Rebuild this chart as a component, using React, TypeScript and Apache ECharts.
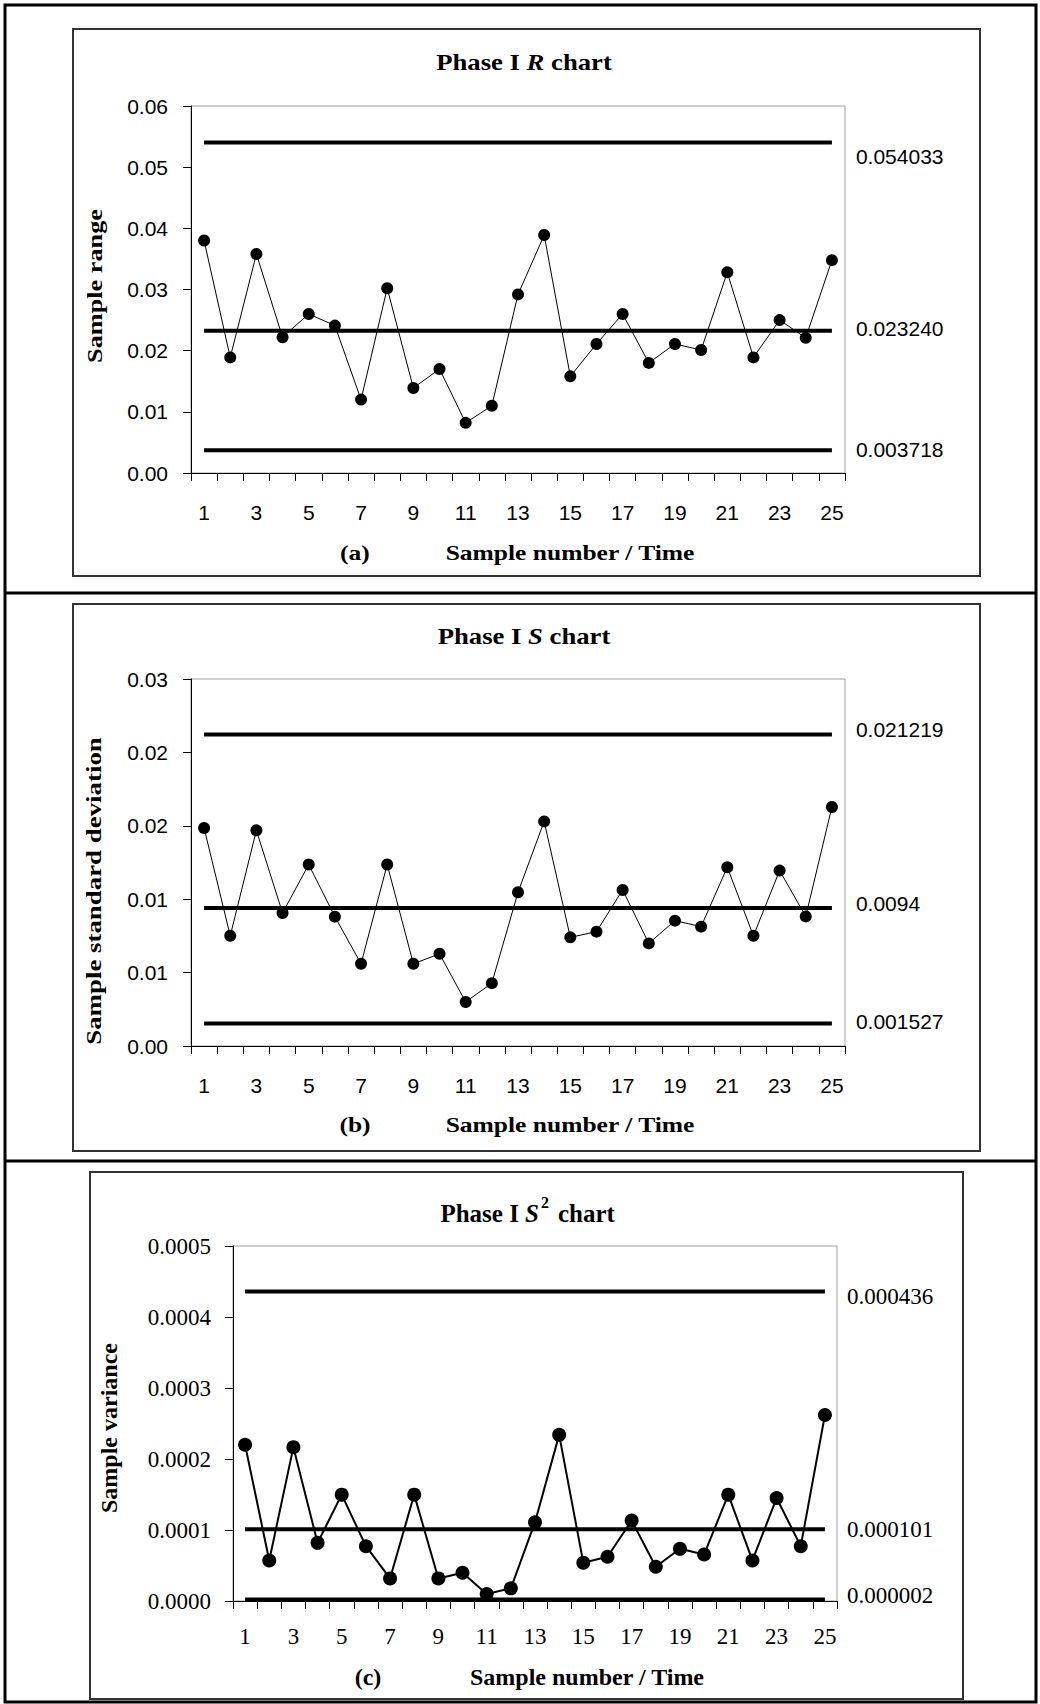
import React, { useEffect, useRef } from "react";
import * as echarts from "echarts";

// ---------- data ----------
const samples = ["1","2","3","4","5","6","7","8","9","10","11","12","13","14","15","16","17","18","19","20","21","22","23","24","25"];

const rangeValues = [0.0380, 0.0189, 0.0358, 0.0222, 0.0260, 0.0241, 0.0120, 0.0302, 0.0139, 0.0170, 0.0082, 0.0110, 0.0292, 0.0389, 0.0158, 0.0211, 0.0260, 0.0180, 0.0211, 0.0201, 0.0328, 0.0189, 0.0250, 0.0221, 0.0348];
const sdValues = [0.01485, 0.00751, 0.01469, 0.00906, 0.01236, 0.00881, 0.00560, 0.01236, 0.00560, 0.00628, 0.00300, 0.00428, 0.01047, 0.01530, 0.00740, 0.00779, 0.01063, 0.00699, 0.00854, 0.00813, 0.01218, 0.00751, 0.01195, 0.00883, 0.01628];
const varValues = [0.000220, 0.0000571, 0.0002167, 0.0000819, 0.0001498, 0.0000772, 0.0000318, 0.0001498, 0.0000318, 0.0000398, 0.0000098, 0.0000178, 0.000111, 0.000234, 0.0000538, 0.0000623, 0.0001133, 0.0000482, 0.0000735, 0.0000655, 0.0001498, 0.0000571, 0.000145, 0.0000772, 0.000262];

const rLimits = [0.054033, 0.02324, 0.003718];
const rLimitLabels = ["0.054033", "0.023240", "0.003718"];
const sLimits = [0.021219, 0.0094, 0.001527];
const sLimitLabels = ["0.021219", "0.0094", "0.001527"];
const vLimits = [0.000436, 0.000101, 0.000002];
const vLimitLabels = ["0.000436", "0.000101", "0.000002"];

const rTicks = ["0.00", "0.01", "0.02", "0.03", "0.04", "0.05", "0.06"];
const sTicks = ["0.00", "0.01", "0.01", "0.02", "0.02", "0.03"];
const vTicks = ["0.0000", "0.0001", "0.0002", "0.0003", "0.0004", "0.0005"];

// ---------- styling ----------
const SANS = '"Liberation Sans", Arial, sans-serif';
const SERIF = '"Liberation Serif", "Times New Roman", serif';

function xAxis(gridIndex: number, font: string, size: number, margin: number) {
  return {
    type: "category",
    gridIndex,
    data: samples,
    boundaryGap: true,
    axisLine: { show: true, onZero: false, lineStyle: { color: "#000", width: 1 } },
    axisTick: { show: true, interval: 0, length: 8, lineStyle: { color: "#000", width: 1 } },
    axisLabel: { interval: 1, margin, color: "#000", fontFamily: font, fontSize: size },
    splitLine: { show: false },
  };
}

function yAxis(gridIndex: number, max: number, step: number, ticks: string[], font: string, size: number, margin: number) {
  return {
    type: "value",
    gridIndex,
    min: 0,
    max,
    interval: step,
    axisLine: { show: true, lineStyle: { color: "#000", width: 1 } },
    axisTick: { show: true, length: 8, lineStyle: { color: "#000", width: 1 } },
    axisLabel: {
      margin,
      color: "#000",
      fontFamily: font,
      fontSize: size,
      formatter: (v: number) => ticks[Math.round(v / step)] ?? "",
    },
    splitLine: { show: false },
  };
}

function dataSeries(idx: number, values: number[], size: number, width: number) {
  return {
    type: "line",
    xAxisIndex: idx,
    yAxisIndex: idx,
    data: values,
    symbol: "circle",
    symbolSize: size,
    itemStyle: { color: "#000" },
    lineStyle: { color: "#000", width },
    z: 5,
    silent: true,
  };
}

function limitSeries(idx: number, limits: number[], labels: string[], offsets: number[], font: string, size: number, distance: number) {
  return limits.map((v, i) => ({
    type: "line",
    xAxisIndex: idx,
    yAxisIndex: idx,
    data: [[samples[0], v], [samples[samples.length - 1], v]],
    showSymbol: false,
    symbol: "none",
    lineStyle: { color: "#000", width: 4 },
    z: 3,
    silent: true,
    endLabel: {
      show: true,
      formatter: () => labels[i],
      distance,
      offset: [0, offsets[i]],
      color: "#000",
      fontFamily: font,
      fontSize: size,
    },
  }));
}

function txt(x: number, y: number, text: string, opts: any = {}) {
  const { size = 22, font = SERIF, weight = "bold", align = "center", rotation = 0, scaleX = 1, rich, style = "normal" } = opts;
  return {
    type: "text",
    x,
    y,
    rotation,
    scaleX,
    silent: true,
    style: {
      text,
      fill: "#000",
      fontSize: size,
      fontFamily: font,
      fontWeight: weight,
      fontStyle: style,
      align,
      verticalAlign: "middle",
      textAlign: align,
      textVerticalAlign: "middle",
      rich,
    },
  };
}

const italicRich = (size: number) => ({
  i: { fontStyle: "italic", fontWeight: "bold", fontSize: size, fontFamily: SERIF, fill: "#000" },
});

const frameGraphics = [
  { type: "rect", shape: { x: 5, y: 5, width: 1031, height: 1697 }, style: { fill: "none", stroke: "#000", lineWidth: 3 }, silent: true },
  { type: "line", shape: { x1: 5, y1: 593, x2: 1036, y2: 593 }, style: { stroke: "#000", lineWidth: 3 }, silent: true },
  { type: "line", shape: { x1: 5, y1: 1161, x2: 1036, y2: 1161 }, style: { stroke: "#000", lineWidth: 3 }, silent: true },
  { type: "rect", shape: { x: 73, y: 29, width: 907, height: 547 }, style: { fill: "none", stroke: "#333", lineWidth: 2 }, silent: true },
  { type: "rect", shape: { x: 73, y: 604, width: 907, height: 547 }, style: { fill: "none", stroke: "#333", lineWidth: 2 }, silent: true },
  { type: "rect", shape: { x: 90, y: 1172, width: 873, height: 527 }, style: { fill: "none", stroke: "#333", lineWidth: 2 }, silent: true },
];

const textGraphics = [
  // panel (a)
  txt(524, 62, "Phase I {i|R} chart", { size: 23, scaleX: 1.16, rich: italicRich(23) }),
  txt(95, 286, "Sample range", { size: 21, rotation: Math.PI / 2, scaleX: 1.25 }),
  txt(355, 553, "(a)", { size: 22, scaleX: 1.16 }),
  txt(570, 553, "Sample number / Time", { size: 22, scaleX: 1.16 }),
  // panel (b)
  txt(524, 636, "Phase I {i|S} chart", { size: 23, scaleX: 1.16, rich: italicRich(23) }),
  txt(94, 891, "Sample standard deviation", { size: 21, rotation: Math.PI / 2, scaleX: 1.28 }),
  txt(355, 1125, "(b)", { size: 22, scaleX: 1.16 }),
  txt(570, 1125, "Sample number / Time", { size: 22, scaleX: 1.16 }),
  // panel (c)
  txt(539, 1213, "Phase I {i|S}", { size: 25, align: "right", rich: italicRich(25) }),
  txt(541, 1202, "2", { size: 16, align: "left" }),
  txt(558, 1213, "chart", { size: 25, align: "left" }),
  txt(109, 1428, "Sample variance", { size: 24, rotation: Math.PI / 2 }),
  txt(368, 1677, "(c)", { size: 24 }),
  txt(587, 1677, "Sample number / Time", { size: 24 }),
];

const option: any = {
  animation: false,
  backgroundColor: "#fff",
  textStyle: { fontFamily: SERIF },
  grid: [
    { left: 191, top: 106, width: 654, height: 367, show: true, borderColor: "#a0a0a0", borderWidth: 1, backgroundColor: "transparent" },
    { left: 191, top: 679, width: 654, height: 367, show: true, borderColor: "#a0a0a0", borderWidth: 1, backgroundColor: "transparent" },
    { left: 233, top: 1246, width: 604, height: 355, show: true, borderColor: "#a0a0a0", borderWidth: 1, backgroundColor: "transparent" },
  ],
  xAxis: [xAxis(0, SANS, 21, 29), xAxis(1, SANS, 21, 29), xAxis(2, SERIF, 23, 24)],
  yAxis: [
    yAxis(0, 0.06, 0.01, rTicks, SANS, 21, 23),
    yAxis(1, 0.025, 0.005, sTicks, SANS, 21, 23),
    yAxis(2, 0.0005, 0.0001, vTicks, SERIF, 23, 22),
  ],
  series: [
    ...limitSeries(0, rLimits, rLimitLabels, [14, -2, -1], SANS, 21, 24),
    dataSeries(0, rangeValues, 12, 1),
    ...limitSeries(1, sLimits, sLimitLabels, [-5, -5, -2], SANS, 21, 24),
    dataSeries(1, sdValues, 12, 1),
    ...limitSeries(2, vLimits, vLimitLabels, [5, 0, -4], SERIF, 23, 22),
    dataSeries(2, varValues, 14, 2),
  ],
  graphic: [...frameGraphics, ...textGraphics],
};

export default function App() {
  const ref = useRef<HTMLDivElement>(null);
  useEffect(() => {
    if (!ref.current) return;
    const chart = echarts.init(ref.current, null, { renderer: "svg" });
    chart.setOption(option);
    return () => chart.dispose();
  }, []);
  return (
    <div
      ref={ref}
      style={{ position: "absolute", left: 0, top: 0, width: 1040, height: 1704, background: "#fff" }}
    />
  );
}
